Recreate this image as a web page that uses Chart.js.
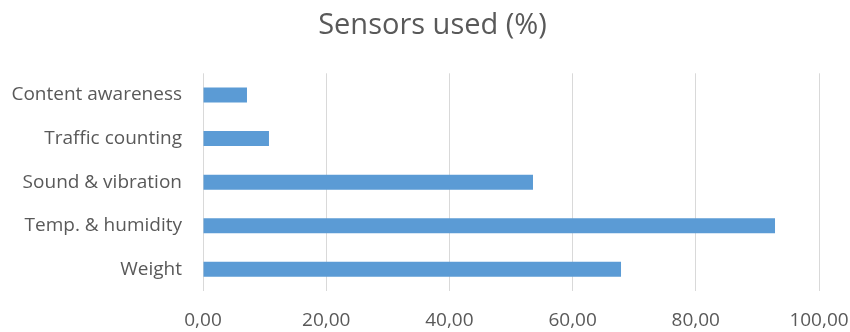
<!DOCTYPE html>
<html><head><meta charset="utf-8">
<script src="https://cdn.jsdelivr.net/npm/chart.js@4/dist/chart.umd.min.js"></script>
<style>html,body{margin:0;padding:0;background:#fff}#wrap{width:850px;height:332px}</style>
</head><body><div id="wrap"><canvas id="c" width="850" height="332"></canvas></div>
<script>
const categories = ["Content awareness", "Traffic counting", "Sound & vibration", "Temp. & humidity", "Weight"];
const sensorsUsed = [7.14, 10.71, 53.57, 92.86, 67.86];
const xTicks = [0, 20, 40, 60, 80, 100];

const FONT = "'Open Sans', sans-serif";
const shiftTitle = { id: 'shiftTitle', afterLayout(chart) {
  const t = chart.titleBlock; if (t) { t.left += 23; t.right += 23; } } };
new Chart(document.getElementById('c'), {
  type: 'bar',
  data: { labels: categories, datasets: [{ label: 'Sensors used (%)', data: sensorsUsed,
    backgroundColor: '#5B9BD5', borderWidth: 0, barPercentage: 0.345, categoryPercentage: 1 }] },
  options: {
    indexAxis: 'y', responsive: false, animation: false,
    layout: { padding: { left: 0, right: 31, top: 0, bottom: 0 } },
    plugins: {
      legend: { display: false }, tooltip: { enabled: false },
      title: { display: true, text: 'Sensors used (%)', color: '#595959',
        font: { family: FONT, size: 29, weight: 'normal' }, padding: { top: 8, bottom: 30.5 } }
    },
    scales: {
      x: { min: 0, max: 100, afterBuildTicks: a => { a.ticks = xTicks.map(v => ({ value: v })); },
        grid: { color: '#D9D9D9', lineWidth: 1, drawTicks: false },
        border: { display: false },
        ticks: { color: '#595959', padding: 18, font: { family: FONT, size: 19 } ,
          callback: v => Number(v).toFixed(2).replace('.', ',') },
        afterFit: a => { a.height = 41; a.paddingLeft = 0; a.paddingRight = 0; } },
      y: { grid: { display: false }, border: { display: false },
        ticks: { color: '#595959', padding: 13, font: { family: FONT, size: 19 } },
        afterFit: a => { a.width = 203; } }
    }
  },
  plugins: [shiftTitle]
});
</script></body></html>
